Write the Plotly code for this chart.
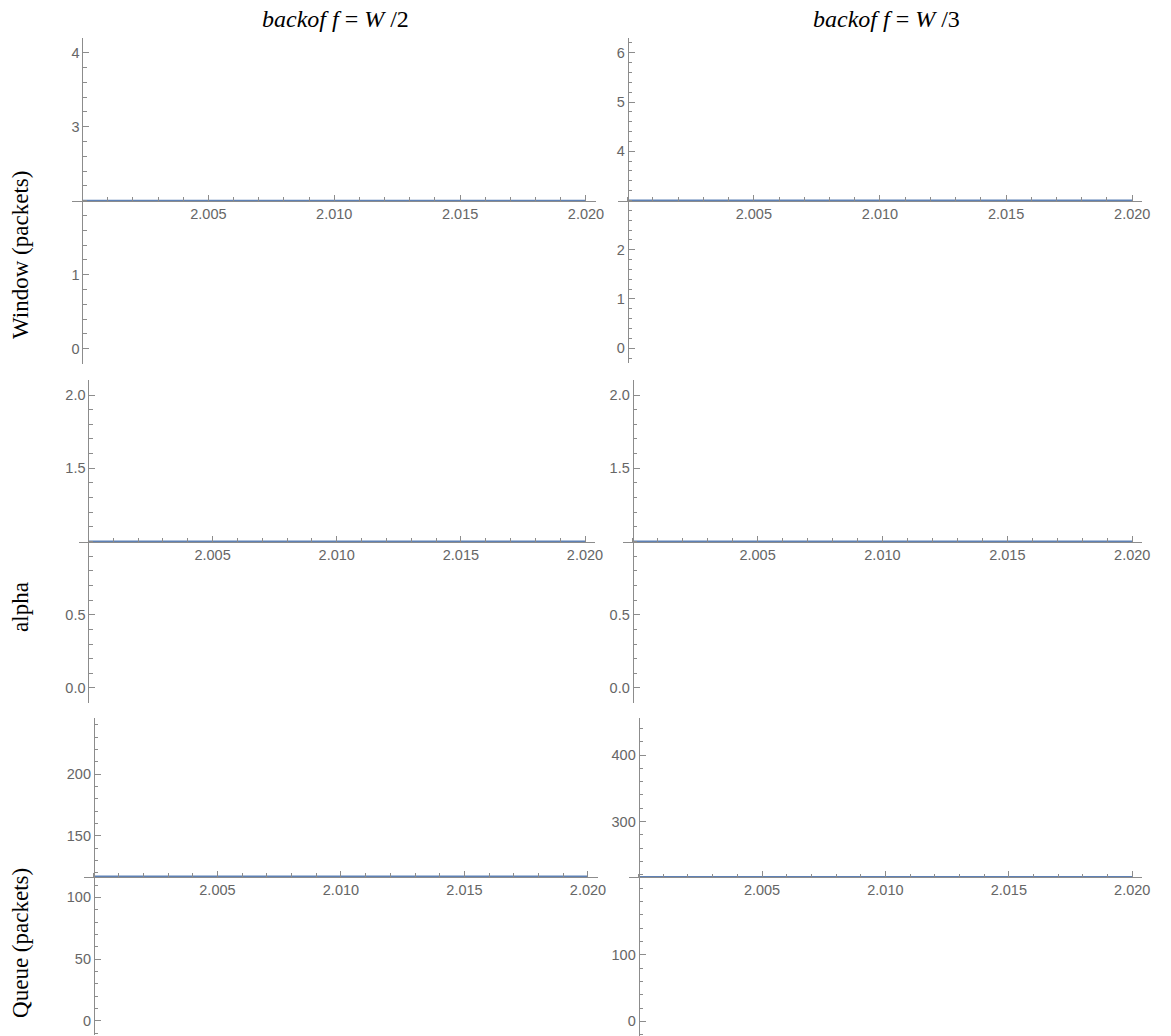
import numpy as np
import plotly.graph_objects as go

# ---------------- data ----------------
time_s = [2.000, 2.005, 2.010, 2.015, 2.020]
window_half = [2, 2, 2, 2, 2]          # backoff = W/2
window_third = [3, 3, 3, 3, 3]         # backoff = W/3
alpha_half = [1, 1, 1, 1, 1]
alpha_third = [1, 1, 1, 1, 1]
queue_half = [116.8, 116.8, 116.8, 116.8, 116.8]
queue_third = [216.8, 216.8, 216.8, 216.8, 216.8]

x_tickvals = [2.005, 2.010, 2.015, 2.020]
x_ticktext = ["2.005", "2.010", "2.015", "2.020"]

col_titles = ["<i>backof f</i> = <i>W</i> /2", "<i>backof f</i> = <i>W</i> /3"]
row_titles = ["Window (packets)", "alpha", "Queue (packets)"]

# page offset (default body margin of the html page)
OFF = 8
FW, FH = 1163, 1028
LINE = "#5E81B5"
AXC = "#8c8c8c"
LBL = "#666666"


def px_x(px):
    return (px - OFF) / FW


def px_y(py):
    return 1 - (py - OFF) / FH


# panel layout (page-pixel geometry) and axis settings
panels = [
    dict(y=window_half, ax=83, bx=590, top=38, bot=363.5, yr=[-0.2, 4.2], line=2,
         yt=[0, 1, 3, 4], ytt=["0", "1", "3", "4"], ystep=0.2),
    dict(y=window_third, ax=632, bx=1140, top=38, bot=363, yr=[-0.3, 6.3], line=3,
         yt=[0, 1, 2, 4, 5, 6], ytt=["0", "1", "2", "4", "5", "6"], ystep=0.2),
    dict(y=alpha_half, ax=89, bx=589, top=380.4, bot=702.6, yr=[-0.1, 2.1], line=1,
         yt=[0, 0.5, 1.5, 2.0], ytt=["0.0", "0.5", "1.5", "2.0"], ystep=0.1),
    dict(y=alpha_third, ax=637, bx=1140, top=380.4, bot=702.6, yr=[-0.1, 2.1], line=1,
         yt=[0, 0.5, 1.5, 2.0], ytt=["0.0", "0.5", "1.5", "2.0"], ystep=0.1),
    dict(y=queue_half, ax=94.5, bx=592, top=718, bot=1035, yr=[-11.6, 245.4], line=116.8,
         yt=[0, 50, 100, 150, 200], ytt=["0", "50", "100", "150", "200"], ystep=10),
    dict(y=queue_third, ax=643, bx=1140, top=718, bot=1036, yr=[-22, 455.6], line=216.8,
         yt=[0, 100, 300, 400], ytt=["0", "100", "300", "400"], ystep=20),
]

x0, x1 = 2.000, 2.020
pad = 0.0004
x_minor = [round(v, 4) for v in np.arange(x0, x1 + 1e-9, 0.001)]

fig = go.Figure()
layout = dict(
    width=FW, height=FH, margin=dict(l=0, r=0, t=0, b=0),
    paper_bgcolor="white", plot_bgcolor="white", showlegend=False,
)
tickfont = dict(family="Liberation Sans", size=14.5, color=LBL)

for i, p in enumerate(panels, start=1):
    k = (p["bx"] - p["ax"]) / (x1 - x0)
    dl = p["ax"] - pad * k
    dr = p["bx"] + pad * k
    xdom = [px_x(dl), px_x(dr)]
    ydom = [px_y(p["bot"]), px_y(p["top"])]
    r0, r1 = p["yr"]
    ypos = ydom[0] + (p["line"] - r0) / (r1 - r0) * (ydom[1] - ydom[0])
    xpos = xdom[0] + pad / ((x1 - x0) + 2 * pad) * (xdom[1] - xdom[0])

    s = "" if i == 1 else str(i)
    fig.add_trace(go.Scatter(x=time_s, y=p["y"], mode="lines",
                             line=dict(color=LINE, width=2),
                             xaxis="x" + s, yaxis="y" + s, hoverinfo="skip"))
    ystart = np.ceil(r0 / p["ystep"] - 1e-9) * p["ystep"]
    y_minor = [round(v, 4) for v in np.arange(ystart, r1 + 1e-9, p["ystep"])]

    layout["xaxis" + s] = dict(
        domain=xdom, range=[x0 - pad, x1 + pad], anchor="free", position=ypos,
        showline=True, linecolor=AXC, linewidth=1, showgrid=False, zeroline=False,
        ticks="inside", ticklen=6, tickcolor=AXC, tickwidth=1,
        tickmode="array", tickvals=x_tickvals, ticktext=x_ticktext,
        tickfont=tickfont,
        minor=dict(ticks="inside", ticklen=3.5, tickcolor=AXC, tickwidth=1,
                   tickmode="array", tickvals=x_minor, showgrid=False),
    )
    layout["yaxis" + s] = dict(
        domain=ydom, range=p["yr"], anchor="free", position=xpos,
        showline=True, linecolor=AXC, linewidth=1, showgrid=False, zeroline=False,
        ticks="inside", ticklen=6, tickcolor=AXC, tickwidth=1,
        tickmode="array", tickvals=p["yt"], ticktext=p["ytt"],
        tickfont=tickfont,
        minor=dict(ticks="inside", ticklen=3.5, tickcolor=AXC, tickwidth=1,
                   tickmode="array", tickvals=y_minor, showgrid=False),
    )

annotations = []
for cx, t in zip([338, 893], col_titles):
    annotations.append(dict(text=t, x=px_x(cx), y=px_y(19), xref="paper", yref="paper",
                            showarrow=False, xanchor="center", yanchor="middle",
                            font=dict(family="Liberation Serif", size=24, color="black")))
for cy, t in zip([255, 607, 943], row_titles):
    annotations.append(dict(text=t, x=px_x(20), y=px_y(cy), xref="paper", yref="paper",
                            showarrow=False, xanchor="center", yanchor="middle",
                            textangle=-90,
                            font=dict(family="Liberation Serif", size=23, color="black")))
layout["annotations"] = annotations

fig.update_layout(**layout)
fig.write_html("out.html")
